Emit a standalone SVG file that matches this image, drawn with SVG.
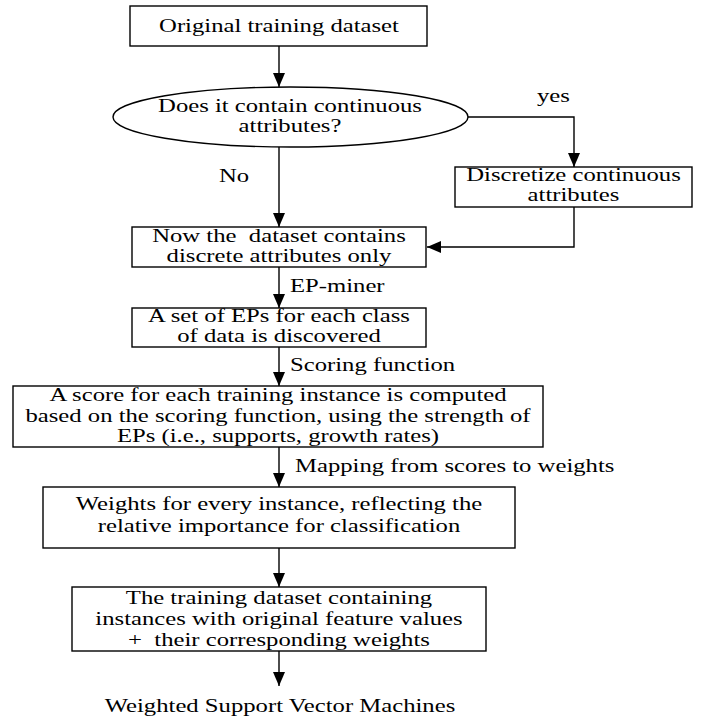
<svg xmlns="http://www.w3.org/2000/svg" width="710" height="719" viewBox="0 0 710 719">
<style>
.box{fill:#fff;stroke:#000;stroke-width:1.4}
.ln{fill:none;stroke:#000;stroke-width:1.4}
text{font-family:'Liberation Serif','Times New Roman',serif;font-size:19px;fill:#000}
.c{text-anchor:middle}
.s{text-anchor:start}
</style>
<defs>
<marker id="ah" markerUnits="userSpaceOnUse" markerWidth="14" markerHeight="12" refX="14" refY="6" orient="auto">
<path d="M0,0 L14,6 L0,12 z" fill="#000"/>
</marker>
</defs>
<rect width="710" height="719" fill="#fff"/>
<g id="connectors">
<path class="ln" d="M279,46 V87" marker-end="url(#ah)"/>
<path class="ln" d="M279,147 V227" marker-end="url(#ah)"/>
<path class="ln" d="M468,117 H574 V167" marker-end="url(#ah)"/>
<path class="ln" d="M574,207 V247 H427" marker-end="url(#ah)"/>
<path class="ln" d="M279,267 V308" marker-end="url(#ah)"/>
<path class="ln" d="M279,347 V386" marker-end="url(#ah)"/>
<path class="ln" d="M279,447 V487" marker-end="url(#ah)"/>
<path class="ln" d="M279,548 V587" marker-end="url(#ah)"/>
<path class="ln" d="M279,651 V686" marker-end="url(#ah)"/>
<text class="s" transform="translate(537 102) scale(1.3 1)">yes</text>
<text class="s" transform="translate(219 182) scale(1.3 1)">No</text>
<text class="s" transform="translate(290 292) scale(1.3 1)">EP-miner</text>
<text class="s" transform="translate(290 371) scale(1.3 1)">Scoring function</text>
<text class="s" transform="translate(295 472) scale(1.3 1)">Mapping from scores to weights</text>
</g>
<g id="n1">
<rect class="box" x="130" y="6" width="297" height="40"/>
<text class="c" transform="translate(279 32) scale(1.3 1)">Original training dataset</text>
</g>
<g id="n2">
<ellipse class="box" cx="290.5" cy="117" rx="177.5" ry="30"/>
<text class="c" transform="translate(290 112) scale(1.3 1)">Does it contain continuous</text>
<text class="c" transform="translate(290 132) scale(1.3 1)">attributes?</text>
</g>
<g id="n3">
<rect class="box" x="455" y="167" width="237" height="40"/>
<text class="c" transform="translate(573.5 181) scale(1.3 1)">Discretize continuous</text>
<text class="c" transform="translate(573.5 201) scale(1.3 1)">attributes</text>
</g>
<g id="n4">
<rect class="box" x="132" y="227" width="294" height="40"/>
<text class="c" transform="translate(279 242) scale(1.3 1)" xml:space="preserve">Now the  dataset contains</text>
<text class="c" transform="translate(279 262) scale(1.3 1)">discrete attributes only</text>
</g>
<g id="n5">
<rect class="box" x="132" y="308" width="294" height="39"/>
<text class="c" transform="translate(279 322) scale(1.3 1)">A set of EPs for each class</text>
<text class="c" transform="translate(279 342) scale(1.3 1)">of data is discovered</text>
</g>
<g id="n6">
<rect class="box" x="13" y="386" width="530" height="61"/>
<text class="c" transform="translate(278 401) scale(1.3 1)">A score for each training instance is computed</text>
<text class="c" transform="translate(278 422) scale(1.3 1)">based on the scoring function, using the strength of</text>
<text class="c" transform="translate(278 442) scale(1.3 1)">EPs (i.e., supports, growth rates)</text>
</g>
<g id="n7">
<rect class="box" x="43" y="487" width="472" height="61"/>
<text class="c" transform="translate(279 510) scale(1.3 1)">Weights for every instance, reflecting the</text>
<text class="c" transform="translate(279 532) scale(1.3 1)">relative importance for classification</text>
</g>
<g id="n8">
<rect class="box" x="72" y="587" width="414" height="64"/>
<text class="c" transform="translate(279 604) scale(1.3 1)">The training dataset containing</text>
<text class="c" transform="translate(279 625) scale(1.3 1)">instances with original feature values</text>
<text class="c" transform="translate(279 646) scale(1.3 1)" xml:space="preserve">+  their corresponding weights</text>
</g>
<g id="n9">
<text class="c" transform="translate(280 712) scale(1.3 1)">Weighted Support Vector Machines</text>
</g>
</svg>
